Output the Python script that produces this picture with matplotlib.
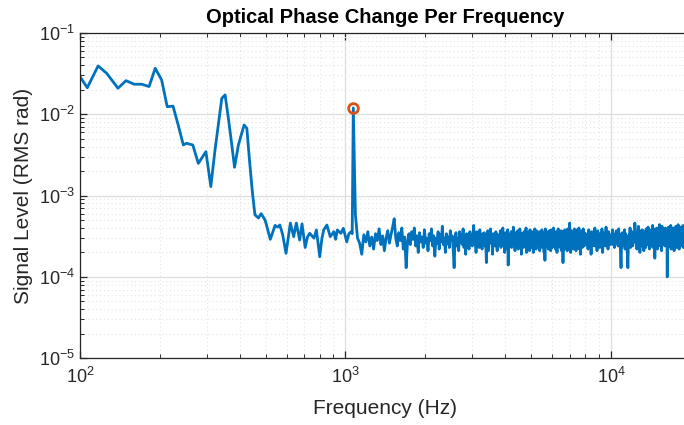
import numpy as np
import matplotlib
matplotlib.use("Agg")
import matplotlib.pyplot as plt
from matplotlib.ticker import LogLocator, NullFormatter

plt.rcParams['font.family'] = ['Liberation Sans', 'DejaVu Sans']

# Low-frequency part of the spectrum (Hz, rad RMS), incl. the 1.07 kHz tone
f_low = [100, 106.5, 117, 126, 139, 149, 160, 171, 182, 192, 203, 213, 224,
         234, 245, 252, 266, 279, 298, 311, 322, 332, 342, 352, 362, 372,
         382, 395, 415, 425, 435, 446, 456, 470, 481, 498, 521, 543, 556,
         566, 580, 597, 620, 638, 653, 672, 686, 705, 719, 733, 761, 777,
         800, 814, 828, 851, 876, 904, 918, 932, 961, 982, 1000, 1011, 1030,
         1050, 1060, 1070, 1090]
v_low = [0.029, 0.0212, 0.0393, 0.0319, 0.0209, 0.0259, 0.0234, 0.0234,
         0.0219, 0.0368, 0.0264, 0.0124, 0.0126, 0.0075, 0.00419, 0.0044,
         0.00419, 0.00249, 0.00347, 0.00129, 0.0035, 0.0075, 0.0157, 0.0173,
         0.009, 0.0045, 0.00223, 0.00419, 0.00738, 0.00673, 0.0027, 0.0011,
         0.00058, 0.00053, 0.0006, 0.0005, 0.00029, 0.00043, 0.00041,
         0.000435, 0.00033, 0.000195, 0.00046, 0.000313, 0.00046, 0.000284,
         0.00045, 0.00023, 0.00031, 0.000344, 0.0003, 0.000378, 0.000177,
         0.00029, 0.000378, 0.000435, 0.000313, 0.00036, 0.00029, 0.000378,
         0.000344, 0.000396, 0.00031, 0.00027, 0.00034, 0.00036, 0.00034,
         0.01196, 0.00058]

# Noise floor above the tone, in units of 1e-4 rad, on decimated bins
f2_start, f2_step = 1110, 20.8
v2 = [3.0, 2.6, 1.9, 3.3, 2.7, 3.6, 2.4, 3.1, 2.2, 3.4,
      2.8, 3.9, 2.5, 3.2, 2.1, 3.0, 3.7, 2.6, 3.3, 4.1,
      5.2, 3.0, 2.4, 3.5, 2.8, 4.0, 2.2, 3.1, 1.3, 2.7,
      3.4, 2.5, 3.6, 2.9, 4.0, 2.4, 3.2, 2.0, 3.5, 2.7,
      3.1, 2.3, 3.8, 2.6, 3.0, 2.1, 3.4, 2.8, 3.9, 2.4,
      3.2, 1.8, 3.0, 2.6, 3.6, 2.2, 3.3, 2.7, 4.2, 2.5,
      3.0, 2.0, 3.4, 2.6, 3.1, 2.3, 3.7, 2.8, 3.2, 2.2,
      1.3, 2.9, 3.5, 2.4, 3.0, 2.1, 3.6, 2.7, 3.3, 2.5,
      3.9, 2.3, 3.1, 1.9, 3.4, 2.8, 3.0, 2.2, 3.6, 2.6,
      3.2, 2.4]

f3_start, f3_step = 3020, 20.8
v3 = [3.3, 4.3, 2.5, 3.1, 2.0, 3.6, 2.6, 3.2, 2.3, 3.8,
      2.7, 3.0, 2.2, 3.4, 2.9, 3.5, 2.4, 3.1, 1.5, 2.9,
      3.7, 2.1, 3.3, 2.8, 3.9, 2.6, 3.0, 1.9, 3.4, 2.7,
      3.2, 2.4, 3.6, 2.9, 2.1, 3.3, 2.5, 3.0, 2.6, 3.7,
      2.3, 3.1, 2.8, 4.0, 2.4, 3.2, 2.0, 3.5, 2.7, 3.0,
      2.2, 3.8, 1.4, 3.3, 2.6, 3.1, 2.9, 3.6, 2.3, 3.0,
      2.5, 4.1, 2.8, 3.2, 2.1, 3.5, 2.6, 3.0, 2.4, 3.7,
      2.2, 3.3, 2.9, 3.9, 2.5, 3.1, 1.9, 3.4, 2.7, 3.0,
      2.3, 3.6, 2.6, 3.2, 2.8, 4.0, 2.0, 3.0, 2.4, 3.5,
      2.7, 3.3, 2.1, 3.8, 2.6, 3.1, 2.3, 3.6, 2.9, 3.2,
      2.0, 3.4, 2.7, 3.9, 2.4, 3.0, 2.2, 3.7, 2.6, 3.3,
      2.5, 3.1, 2.8, 3.6, 2.1, 3.4, 2.9, 3.0, 2.7, 3.8,
      2.3, 3.2, 2.6, 3.5, 2.0, 3.3, 1.6, 3.9, 2.4, 3.1,
      2.6, 3.6, 2.9, 3.2, 2.2, 3.0, 2.5, 3.7, 2.7, 3.4,
      2.1, 3.8, 2.6, 3.1, 2.3, 3.5, 2.8, 4.0, 2.4, 3.0,
      2.6, 3.3, 2.2, 3.6, 2.9, 3.1, 2.0, 3.4, 2.7, 3.9,
      2.5, 3.2, 2.8, 3.5, 2.3, 3.0, 2.6, 3.7, 2.1, 3.3,
      2.9, 3.6, 1.5, 3.1, 2.4, 3.4, 2.7, 3.8, 2.2, 3.2,
      2.6, 3.0, 2.8, 3.5, 2.1, 3.9, 2.5, 3.2, 2.9, 3.6,
      2.3, 4.6, 2.7, 3.1, 2.0, 3.4, 2.6, 3.7, 2.4, 3.0,
      2.8, 3.5, 2.2, 3.3, 2.6, 3.9, 2.3, 3.1, 2.9, 3.6,
      2.1, 3.2, 2.7, 3.8, 2.5, 3.0, 2.4, 3.5, 2.8, 4.0,
      2.2, 3.3, 2.6, 3.6, 1.9, 3.2, 2.9, 3.4, 2.5, 3.7,
      2.3, 3.1, 2.8, 3.9, 2.6, 3.0, 2.4, 3.5, 2.7, 3.2]

f4_start, f4_step = 8030, 55.5
v4 = [3.4, 2.5, 3.1, 2.2, 3.8, 2.7, 3.3, 1.9, 3.6, 2.8,
      3.0, 2.4, 4.0, 2.6, 3.2, 2.1, 3.7, 2.9, 3.4, 2.3,
      3.1, 2.7, 3.9, 2.0, 3.5, 2.8, 3.2, 2.4, 4.1, 2.6,
      3.0, 2.2, 3.6, 2.9, 3.3, 2.5, 3.1, 2.7, 3.8, 2.5,
      3.4, 2.3, 3.0, 2.6, 3.7, 2.8, 3.2, 2.4, 3.9, 2.6,
      3.3, 2.1, 1.3, 2.7, 3.5, 2.4, 3.0, 2.8, 3.8, 2.2,
      3.4, 2.6, 3.1, 2.0, 1.3, 2.9, 3.3, 2.5, 4.0, 2.3,
      3.2, 2.7, 3.6, 2.4, 3.4, 2.8, 3.0, 4.6, 3.8, 2.6,
      3.5, 2.2, 3.1, 2.9, 4.2, 2.5, 3.3, 2.0, 3.7, 2.7,
      3.2, 2.4, 3.8, 2.6, 3.4, 2.1, 3.6, 2.9, 3.1, 2.3,
      3.9, 2.8, 3.5, 2.5, 4.1, 2.7, 3.3, 2.2, 3.8, 2.9,
      3.4, 2.4, 3.0, 2.6, 4.3, 2.3, 3.6, 2.8, 3.2, 1.7,
      3.9, 2.7, 3.5, 2.5, 4.0, 2.2, 3.4, 2.9, 3.7, 2.6,
      4.4, 2.4, 3.3, 2.8, 3.8, 2.1, 4.2, 2.7, 3.5, 2.5,
      3.7, 2.9, 3.3, 2.4, 4.0, 2.6, 3.1, 2.8, 3.9, 1.0,
      3.5, 2.3, 4.1, 2.7, 3.6, 2.5, 3.2, 2.9, 4.3, 2.2,
      3.8, 2.6, 3.4, 2.8, 4.0, 2.4, 3.6, 2.1, 3.9, 2.7,
      3.3, 2.5, 4.2, 2.9, 3.7, 2.3, 3.5, 2.8, 4.4, 2.6,
      3.6, 2.2, 4.0, 2.7, 3.4, 2.9, 4.1, 2.4, 3.8, 2.6,
      3.5, 2.8, 4.3, 2.3, 3.9, 2.7, 3.6, 2.5, 4.5, 2.9,
      3.7, 2.4, 4.0, 2.6, 3.8, 2.2, 4.2, 2.8, 3.6, 2.5,
      4.4, 2.7, 3.9, 2.3, 4.1, 2.9]

peak_freq = 1070
peak_val = 0.01196

f2 = f2_start + f2_step * np.arange(len(v2))
f3 = f3_start + f3_step * np.arange(len(v3))
f4 = f4_start + f4_step * np.arange(len(v4))
freq = np.concatenate([f_low, f2, f3, f4])
level = np.concatenate([v_low, np.array(v2) * 1e-4,
                        np.array(v3) * 1e-4, np.array(v4) * 1e-4])

fig = plt.figure(figsize=(6.84, 4.25), dpi=100)
ax = fig.add_axes([0.117, 0.157, 0.893, 0.7655])

ax.plot(freq, level, color='#0072BD', linewidth=2.0)
ax.plot(peak_freq, peak_val, 'o', markersize=7, markerfacecolor='none',
        markeredgecolor='#D95319', markeredgewidth=2.0)

ax.set_xscale('log')
ax.set_yscale('log')
ax.set_xlim(100, 20000)
ax.set_ylim(1e-5, 1e-1)

ax.xaxis.set_major_locator(LogLocator(base=10, numticks=10))
ax.xaxis.set_minor_locator(LogLocator(base=10, subs=np.arange(2, 10), numticks=20))
ax.yaxis.set_minor_locator(LogLocator(base=10, subs=np.arange(2, 10), numticks=20))
ax.xaxis.set_minor_formatter(NullFormatter())
ax.yaxis.set_minor_formatter(NullFormatter())

ax.grid(True, which='major', color='#dedede', linewidth=0.9, linestyle='-')
ax.grid(True, which='minor', color='#e4e4e4', linewidth=0.8, linestyle=(0, (1, 2.5)))
ax.set_axisbelow(True)

for s in ax.spines.values():
    s.set_color('#262626')
    s.set_linewidth(0.9)
ax.tick_params(which='both', direction='in', top=True, right=True,
               colors='#262626', labelcolor='#262626', labelsize=13)
ax.tick_params(which='major', length=5, width=0.9)
ax.tick_params(which='minor', length=3, width=0.7)
ax.tick_params(axis='x', pad=6)

ax.set_xlabel('Frequency (Hz)', fontsize=15, color='#262626', labelpad=9)
ax.set_ylabel('Signal Level (RMS rad)', fontsize=15, color='#262626', labelpad=4)
ax.set_title('Optical Phase Change Per Frequency', fontsize=14.5, fontweight='bold',
             color='black', pad=7)

fig.savefig('out.png', dpi=100)
